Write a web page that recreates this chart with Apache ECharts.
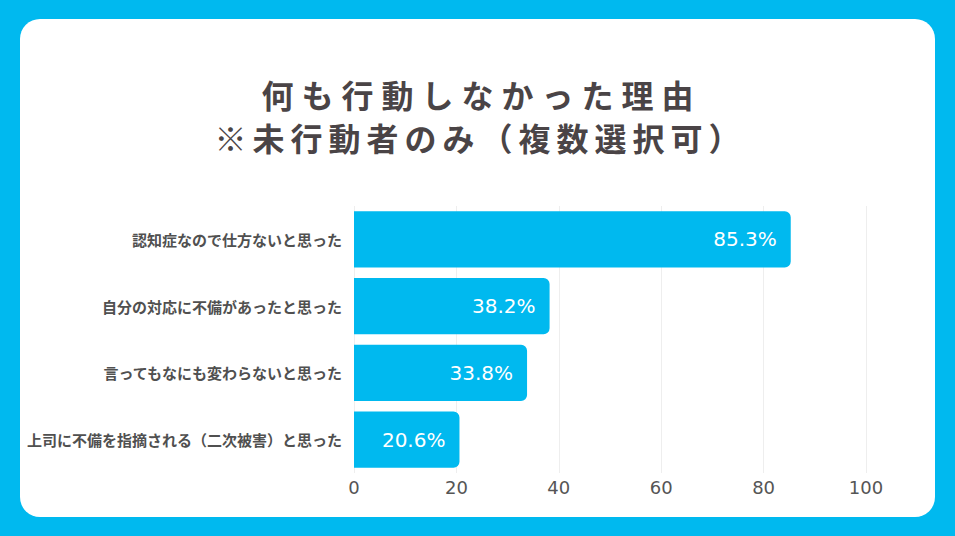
<!DOCTYPE html>
<html>
<head>
<meta charset="utf-8" />
<title>何も行動しなかった理由</title>
<script src="https://cdn.jsdelivr.net/npm/echarts@6/dist/echarts.min.js"></script>
<style>
  html, body { margin: 0; padding: 0; }
  #main { width: 955px; height: 536px; }
</style>
</head>
<body>
<div id="main"></div>
<script>
// 回答項目（上から順）
var categories = [
  '認知症なので仕方ないと思った',
  '自分の対応に不備があったと思った',
  '言ってもなにも変わらないと思った',
  '上司に不備を指摘される（二次被害）と思った'
];
var values = [85.3, 38.2, 33.8, 20.6];
var xTicks = [0, 20, 40, 60, 80, 100];

var titleMain = '何も行動しなかった理由';
var titleSub = '※未行動者のみ（複数選択可）';

var chart = echarts.init(document.getElementById('main'), null, { renderer: 'svg' });

var option = {
  animation: false,
  backgroundColor: '#00b9ef',
  textStyle: { fontFamily: '"Noto Sans CJK JP", "Noto Sans", sans-serif' },
  graphic: [{
    type: 'rect',
    z: -10,
    shape: { x: 20, y: 19, width: 915, height: 498, r: 20 },
    style: { fill: '#ffffff' }
  }],
  title: [{
    text: titleMain,
    left: 'center',
    top: 73,
    textStyle: { fontSize: 32, fontWeight: 'bold', color: '#4a4446' }
  }, {
    text: titleSub,
    left: 'center',
    top: 116,
    textStyle: { fontSize: 32, fontWeight: 'bold', color: '#4a4446' }
  }],
  grid: { left: 354, right: 89, top: 206, bottom: 63 },
  xAxis: {
    type: 'value',
    min: 0,
    max: 100,
    interval: 20,
    axisLine: { show: false },
    axisTick: { show: false },
    splitLine: { lineStyle: { color: '#eeeeee', width: 1 } },
    axisLabel: {
      color: '#555555',
      fontSize: 18,
      margin: 5,
      fontFamily: '"DejaVu Sans", sans-serif',
      formatter: function (v) { return xTicks.indexOf(v) >= 0 ? String(v) : ''; }
    }
  },
  yAxis: {
    type: 'category',
    inverse: true,
    data: categories,
    axisLine: { show: false },
    axisTick: { show: false },
    axisLabel: {
      color: '#505050',
      fontSize: 15,
      fontWeight: 'bold',
      margin: 12
    }
  },
  series: [{
    type: 'bar',
    data: values,
    barWidth: '84%',
    itemStyle: { color: '#00b9ef', borderRadius: [0, 6, 6, 0] },
    label: {
      show: true,
      position: 'insideRight',
      distance: 14,
      color: '#ffffff',
      fontSize: 20,
      fontFamily: '"DejaVu Sans", sans-serif',
      formatter: function (p) { return p.value.toFixed(1) + '%'; }
    }
  }]
};

chart.setOption(option);

// タイトルの字間を広げる（SVG の text に letter-spacing を付ける）
function spaceTitles() {
  var texts = document.querySelectorAll('#main svg text');
  texts.forEach(function (t) {
    var s = t.textContent;
    var ls = s === titleMain ? 8 : (s === titleSub ? 6 : 0);
    if (ls && !t.getAttribute('letter-spacing')) {
      t.setAttribute('letter-spacing', String(ls));
      t.setAttribute('transform', (t.getAttribute('transform') || '') + ' translate(' + ls / 2 + ',0)');
    }
  });
}
chart.getZr().flush();
spaceTitles();
chart.on('finished', spaceTitles);
</script>
</body>
</html>
